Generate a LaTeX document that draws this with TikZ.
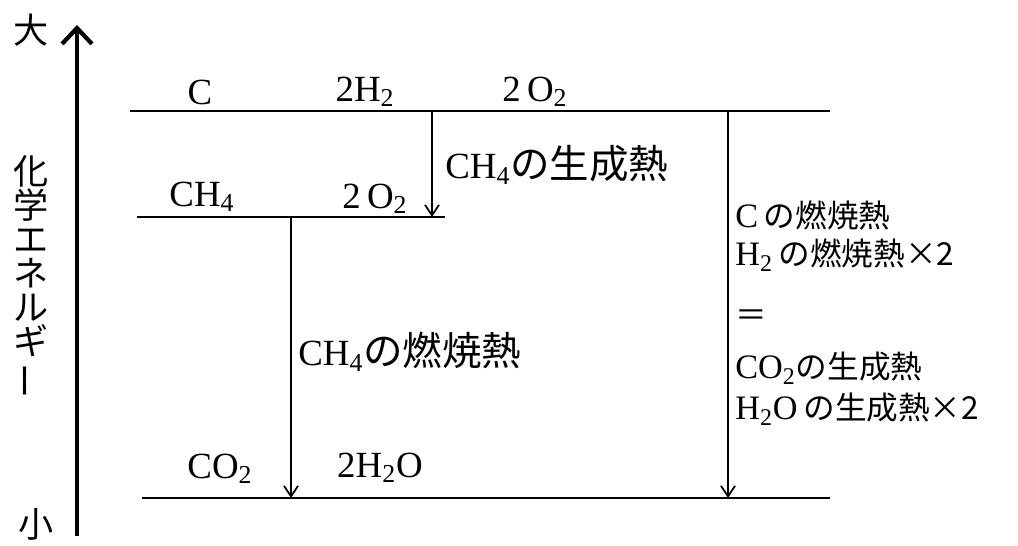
\documentclass[tikz,border=0pt]{standalone}
\usepackage{fontspec}
\setmainfont{Liberation Serif}
\newfontfamily\jp{Noto Sans CJK JP}
\usetikzlibrary{arrows.meta}
\newcommand\jbig[1]{{\jp\fontsize{22.5pt}{24pt}\selectfont #1}}
\newcommand\jmid[1]{{\jp\fontsize{18pt}{20pt}\selectfont #1}}
\newcommand\sub[1]{\textsubscript{#1}}
\begin{document}
\begin{tikzpicture}[x=0.02cm,y=-0.02cm,
  lvl/.style={line width=1.3pt},
  arr/.style={line width=1pt,-{Straight Barb[length=6pt,width=8pt]}},
  big/.style={line width=2.4pt,-{Straight Barb[length=9pt,width=17pt]}},
  chem/.style={inner sep=0pt,font=\fontsize{21pt}{22pt}\selectfont},
  lab/.style={inner sep=0pt,anchor=west,font=\fontsize{21pt}{22pt}\selectfont},
  rlab/.style={inner sep=0pt,anchor=west,font=\fontsize{19.5pt}{22pt}\selectfont},
  side/.style={inner sep=0pt,font=\jp\fontsize{20pt}{19.3pt}\selectfont}]
\useasboundingbox (0,0) rectangle (1018,546);
% energy axis
\coordinate (axB) at (77,536);
\coordinate (axT) at (77,25);
\draw[big] (axB) -- (axT);
\node[side] (dai) at (31,30) {大};
\node[side] (sho) at (36,524) {小};
\node[side,align=center] (axlab) at (31,277) {化\\学\\エ\\ネ\\ル\\ギ\\\rotatebox[origin=c]{90}{ー}};
% levels
\coordinate (tL) at (130,111); \coordinate (tR) at (830,111);
\coordinate (mL) at (137,217); \coordinate (mR) at (445,217);
\coordinate (bL) at (142,498); \coordinate (bR) at (830,498);
\draw[lvl] (tL) -- (tR);
\draw[lvl] (mL) -- (mR);
\draw[lvl] (bL) -- (bR);
% species
\node[chem] (c) at (200,92) {C};
\node[chem] (h2) at (365,92) {2H\sub{2}};
\node[chem] (o2a) at (535,92) {2\,O\sub{2}};
\node[chem] (ch4) at (202,197) {CH\sub{4}};
\node[chem] (o2b) at (375,199) {2\,O\sub{2}};
\node[chem] (co2) at (220,469) {CO\sub{2}};
\node[chem] (h2o) at (380,468) {2H\sub{2}O};
% arrows
\coordinate (a1s) at (432,111); \coordinate (a1e) at (432,217);
\coordinate (a2s) at (291,217); \coordinate (a2e) at (291,498);
\coordinate (a3s) at (728,111); \coordinate (a3e) at (728,498);
\draw[arr] (a1s) -- (a1e);
\draw[arr] (a2s) -- (a2e);
\draw[arr] (a3s) -- (a3e);
\node[lab] (l1) at (445,165) {CH\sub{4}\jbig{の生成熱}};
\node[lab] (l2) at (298,352) {CH\sub{4}\jbig{の燃焼熱}};
\node[rlab] (r1) at (735,215) {C\,\jmid{の燃焼熱}};
\node[rlab] (r2) at (735,255) {H\sub{2}\,\jmid{の燃焼熱×2}};
\node[rlab] (r3) at (735,318) {\jmid{＝}};
\node[rlab] (r4) at (735,368) {CO\sub{2}\jmid{の生成熱}};
\node[rlab] (r5) at (735,409) {H\sub{2}O\,\jmid{の生成熱×2}};
\end{tikzpicture}
\end{document}
